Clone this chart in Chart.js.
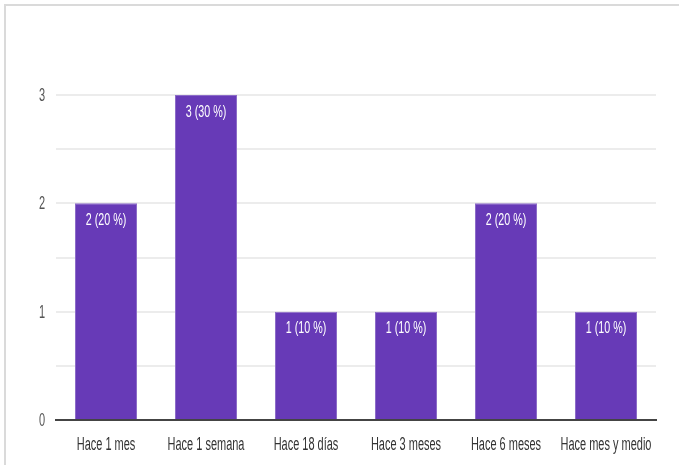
<!DOCTYPE html>
<html>
<head>
<meta charset="utf-8">
<script src="https://cdn.jsdelivr.net/npm/chart.js@4"></script>
<style>
  html, body { margin: 0; padding: 0; background: #fff; }
  #wrap { position: absolute; left: 0; top: 0; width: 679px; height: 465px; }
  #frame { position: absolute; left: 4px; top: 4px; width: 675px; height: 461px;
           border-top: 2px solid #dadada; border-left: 2px solid #dadada; box-sizing: border-box; }
  canvas { position: absolute; left: 0; top: 0; }
</style>
</head>
<body>
<div id="wrap">
  <div id="frame"></div>
  <canvas id="grafico" width="679" height="465"></canvas>
</div>
<script>
const categorias = ['Hace 1 mes', 'Hace 1 semana', 'Hace 18 días', 'Hace 3 meses', 'Hace 6 meses', 'Hace mes y medio'];
const respuestas = [2, 3, 1, 1, 2, 1];
const porcentajes = [20, 30, 10, 10, 20, 10];
const ticksY = [0, 1, 2, 3];

const fuente = "'Liberation Sans', Arial, sans-serif";

// texto estrecho (la captura original sale comprimida en horizontal)
function textoEstrecho(c, txt, x, y, escala, alinear) {
  c.save();
  c.translate(x, y);
  c.scale(escala, 1);
  c.textAlign = alinear;
  c.textBaseline = 'middle';
  c.fillText(txt, 0, 0);
  c.restore();
}

const textos = {
  id: 'textos',
  afterDraw(chart) {
    const c = chart.ctx;
    const area = chart.chartArea;
    const sx = chart.scales.x;
    const sy = chart.scales.y;
    const meta = chart.getDatasetMeta(0);

    // etiquetas blancas en las barras
    c.fillStyle = '#ffffff';
    c.font = '17px ' + fuente;
    meta.data.forEach((bar, i) => {
      textoEstrecho(c, respuestas[i] + ' (' + porcentajes[i] + ' %)', bar.x, bar.y + 17, 0.63, 'center');
    });

    // categorias
    c.fillStyle = '#333';
    c.font = '18px ' + fuente;
    categorias.forEach((cat, i) => {
      textoEstrecho(c, cat, sx.getPixelForTick(i), area.bottom + 25, 0.61, 'center');
    });

    // valores eje y
    c.fillStyle = '#555';
    ticksY.forEach(v => {
      textoEstrecho(c, String(v), area.left - 11, sy.getPixelForValue(v) + 1, 0.61, 'right');
    });
  }
};

const ctx = document.getElementById('grafico');
new Chart(ctx, {
  type: 'bar',
  data: {
    labels: categorias,
    datasets: [{
      data: respuestas,
      backgroundColor: '#673ab7',
      borderColor: '#8c6cc8',
      borderWidth: 1,
      barPercentage: 0.62,
      categoryPercentage: 1
    }]
  },
  options: {
    responsive: false,
    animation: false,
    layout: { padding: { top: 95, right: 23, left: 0, bottom: 0 } },
    plugins: { legend: { display: false }, tooltip: { enabled: false } },
    scales: {
      x: {
        grid: { display: false },
        border: { color: '#444', width: 2 },
        ticks: { display: false },
        afterFit(s) { s.height = 45; }
      },
      y: {
        min: 0,
        max: 3,
        border: { display: false },
        grid: { color: '#ececec', lineWidth: 2, drawTicks: false },
        ticks: { display: false, stepSize: 0.5 },
        afterFit(s) { s.width = 56; }
      }
    }
  },
  plugins: [textos]
});
</script>
</body>
</html>
